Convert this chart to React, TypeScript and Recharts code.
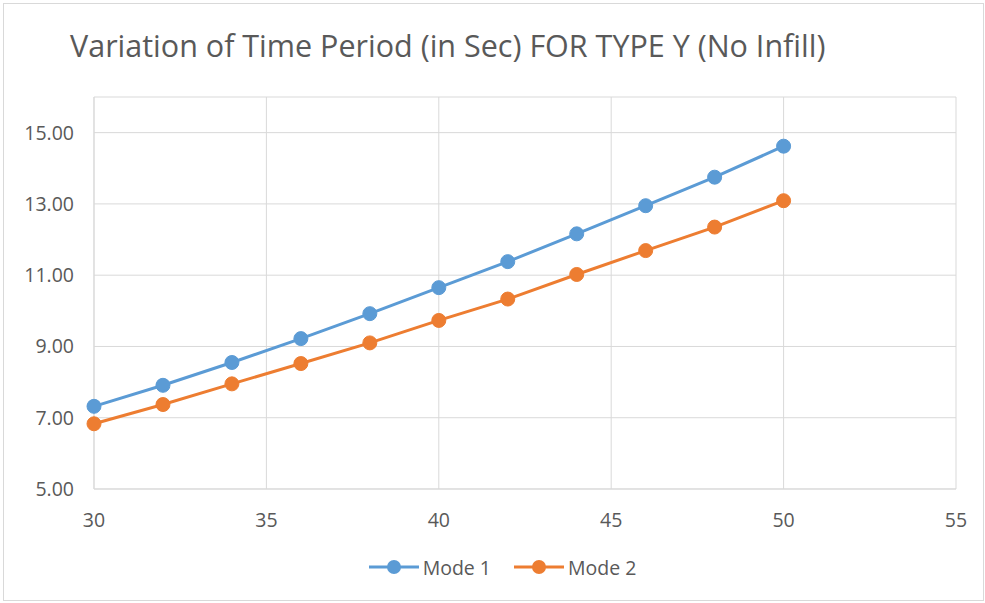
import React from "react";
import { LineChart, Line, XAxis, YAxis, CartesianGrid, Legend } from "recharts";

// Building height (x) vs time period in seconds.
const spans = [30, 32, 34, 36, 38, 40, 42, 44, 46, 48, 50];
const mode1 = [7.32, 7.91, 8.55, 9.22, 9.92, 10.65, 11.38, 12.16, 12.95, 13.75, 14.62];
const mode2 = [6.83, 7.37, 7.95, 8.52, 9.1, 9.73, 10.33, 11.02, 11.69, 12.35, 13.09];
const xTicks = [30, 35, 40, 45, 50, 55];
const yTicks = [5, 7, 9, 11, 13, 15];

const SERIES = [
  { key: "mode1", name: "Mode 1", color: "#5B9BD5" },
  { key: "mode2", name: "Mode 2", color: "#ED7D31" },
];

const FONT = '"Open Sans", "Noto Sans", sans-serif';
const TEXT = "#595959";
const GRID = "#d9d9d9";

const data = spans.map((x, i) => ({ x, mode1: mode1[i], mode2: mode2[i] }));

function LegendContent() {
  return (
    <div
      style={{
        display: "flex",
        justifyContent: "center",
        alignItems: "center",
        gap: 23,
        height: 30,
        fontFamily: FONT,
        fontSize: 19.5,
        color: TEXT,
      }}
    >
      {SERIES.map((s) => (
        <div key={s.key} style={{ display: "flex", alignItems: "center", gap: 4 }}>
          <svg width={50} height={16}>
            <line x1={0} x2={50} y1={8} y2={8} stroke={s.color} strokeWidth={3} />
            <circle cx={25} cy={8} r={7} fill={s.color} />
          </svg>
          <span>{s.name}</span>
        </div>
      ))}
    </div>
  );
}

export default function App() {
  return (
    <div style={{ position: "absolute", left: 0, top: 0, width: 985, height: 603, background: "#fff" }}>
      <div
        style={{
          position: "absolute",
          left: 3,
          top: 3,
          width: 979,
          height: 596,
          border: `1px solid ${GRID}`,
          pointerEvents: "none",
        }}
      />
      <div
        style={{
          position: "absolute",
          left: 70,
          top: 24,
          fontFamily: FONT,
          fontSize: 30.5,
          color: TEXT,
          whiteSpace: "nowrap",
        }}
      >
        Variation of Time Period (in Sec) FOR TYPE Y (No Infill)
      </div>
      <LineChart width={985} height={603} data={data} margin={{ top: 97, right: 29, left: 0, bottom: 44 }}>
        <CartesianGrid stroke={GRID} strokeWidth={1} />
        <XAxis
          dataKey="x"
          type="number"
          domain={[30, 55]}
          ticks={xTicks}
          height={40}
          tickLine={false}
          tickMargin={18}
          axisLine={{ stroke: GRID }}
          tick={{ fill: TEXT, fontFamily: FONT, fontSize: 19.5 }}
        />
        <YAxis
          type="number"
          domain={[5, 16]}
          ticks={yTicks}
          width={94}
          tickLine={false}
          tickMargin={14}
          axisLine={{ stroke: GRID }}
          tickFormatter={(v: number) => v.toFixed(2)}
          tick={{ fill: TEXT, fontFamily: FONT, fontSize: 19.5 }}
        />
        <Legend
          verticalAlign="bottom"
          content={<LegendContent />}
          wrapperStyle={{ left: 20, width: 965, top: 552, bottom: "auto" }}
        />
        {SERIES.map((s) => (
          <Line
            key={s.key}
            dataKey={s.key}
            name={s.name}
            type="linear"
            stroke={s.color}
            strokeWidth={3}
            dot={{ r: 7, fill: s.color, stroke: s.color, strokeWidth: 1 }}
            activeDot={false}
            isAnimationActive={false}
          />
        ))}
      </LineChart>
    </div>
  );
}
